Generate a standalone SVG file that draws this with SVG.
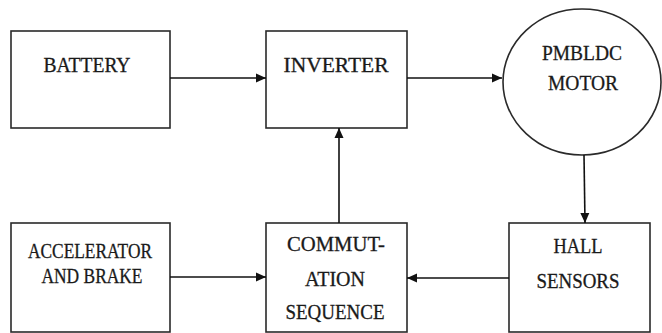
<svg xmlns="http://www.w3.org/2000/svg" width="662" height="333" viewBox="0 0 662 333">
<style>
.box{fill:#fff;stroke:#2a2a2a;stroke-width:1.6}
.lbl{font-family:"Liberation Serif","Times New Roman",serif;font-size:20.5px;fill:#1a1a1a;stroke:#1a1a1a;stroke-width:0.3;text-anchor:middle}
.con{stroke:#111;stroke-width:1.6;fill:none;marker-end:url(#ah)}
</style>
<defs>
<marker id="ah" viewBox="0 0 10 10" refX="10" refY="5" markerWidth="10" markerHeight="10" markerUnits="userSpaceOnUse" orient="auto">
<path d="M0,0.5 L10,5 L0,9.5 Z" fill="#111"/>
</marker>
</defs>
<rect width="662" height="333" fill="#fff"/>
<g id="battery">
<rect class="box" x="11" y="31" width="159" height="97"/>
<text class="lbl" x="87" y="72" textLength="87" lengthAdjust="spacingAndGlyphs">BATTERY</text>
</g>
<g id="inverter">
<rect class="box" x="266" y="31" width="141" height="97"/>
<text class="lbl" x="336" y="72" textLength="105" lengthAdjust="spacingAndGlyphs">INVERTER</text>
</g>
<g id="motor">
<ellipse class="box" cx="582" cy="82" rx="79" ry="73"/>
<text class="lbl" x="582" y="60" textLength="80" lengthAdjust="spacingAndGlyphs">PMBLDC</text>
<text class="lbl" x="583" y="90" textLength="70" lengthAdjust="spacingAndGlyphs">MOTOR</text>
</g>
<g id="accelerator">
<rect class="box" x="11" y="223" width="159" height="109"/>
<text class="lbl" x="90" y="258" textLength="124" lengthAdjust="spacingAndGlyphs">ACCELERATOR</text>
<text class="lbl" x="92" y="283" textLength="101" lengthAdjust="spacingAndGlyphs">AND BRAKE</text>
</g>
<g id="commutation">
<rect class="box" x="266" y="223" width="141" height="109"/>
<text class="lbl" x="336" y="251" textLength="98" lengthAdjust="spacingAndGlyphs">COMMUT-</text>
<text class="lbl" x="335" y="286" textLength="60" lengthAdjust="spacingAndGlyphs">ATION</text>
<text class="lbl" x="335" y="319" textLength="99" lengthAdjust="spacingAndGlyphs">SEQUENCE</text>
</g>
<g id="hall">
<rect class="box" x="509" y="223" width="141" height="109"/>
<text class="lbl" x="578" y="253" textLength="49" lengthAdjust="spacingAndGlyphs">HALL</text>
<text class="lbl" x="578" y="288" textLength="83" lengthAdjust="spacingAndGlyphs">SENSORS</text>
</g>
<g id="connectors">
<line class="con" x1="170" y1="78" x2="266" y2="78"/>
<line class="con" x1="407" y1="78" x2="502" y2="78"/>
<line class="con" x1="584" y1="155" x2="585" y2="223"/>
<line class="con" x1="509" y1="278" x2="407" y2="278"/>
<line class="con" x1="170" y1="277" x2="266" y2="277"/>
<line class="con" x1="339" y1="223" x2="339" y2="128"/>
</g>
</svg>
